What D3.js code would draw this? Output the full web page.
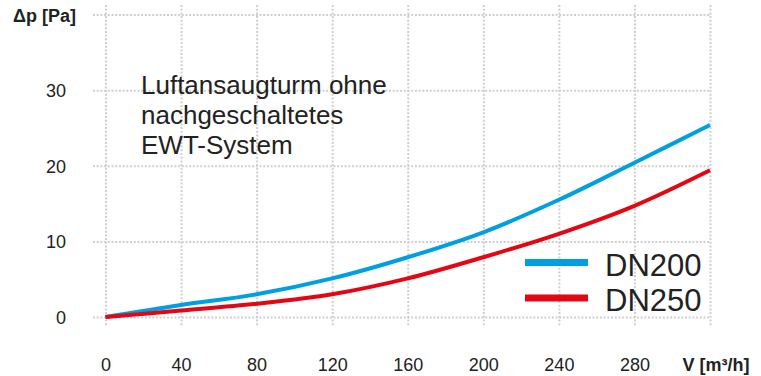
<!DOCTYPE html>
<html><head><meta charset="utf-8">
<script src="https://cdn.jsdelivr.net/npm/d3@7"></script>
<style>
html,body{margin:0;padding:0;background:#fff;}
svg{display:block;font-family:"Liberation Sans",Arial,Helvetica,sans-serif;}
</style></head>
<body>
<svg id="chart" width="761" height="376"></svg>
<script>
const flow = [0, 40, 80, 120, 160, 200, 240, 280, 320];
const dn200 = [0, 1.6, 3.0, 5.1, 7.9, 11.2, 15.5, 20.4, 25.4];
const dn250 = [0, 0.85, 1.75, 3.0, 5.1, 7.9, 11.0, 14.7, 19.4];
const seriesNames = ["DN200", "DN250"];
const seriesColors = ["#009fe3", "#e30613"];
const xTicks = [0, 40, 80, 120, 160, 200, 240, 280, 320];
const xTickLabels = ["0", "40", "80", "120", "160", "200", "240", "280", ""];
const yTicks = [0, 10, 20, 30, 40];
const yTickLabels = ["0", "10", "20", "30", ""];
const xTitle = "V [m³/h]";
const yTitle = "Δp [Pa]";
const noteLines = ["Luftansaugturm ohne", "nachgeschaltetes", "EWT-System"];

const svg = d3.select("#chart");
const x = d3.scaleLinear().domain([0, 320]).range([105.5, 710]);
const y = d3.scaleLinear().domain([0, 40]).range([317, 14.5]);
const txt = "#222";
const gridCol = "#cfcfcf";

// horizontal grid + y labels
const yAxis = d3.axisLeft(y).tickValues(yTicks)
  .tickFormat((d, i) => yTickLabels[i])
  .tickSize(-(710 - 93)).tickPadding(27);
const gy = svg.append("g").attr("transform", "translate(93,0)").call(yAxis);
gy.select(".domain").remove();
gy.selectAll(".tick line").attr("x1", 0).attr("x2", 710 - 93)
  .attr("stroke", gridCol).attr("stroke-width", 2).attr("stroke-dasharray", "2,1.7");
gy.selectAll(".tick text").attr("fill", txt).style("font-size", "18px")
  .attr("font-family", null).attr("x", 66 - 93).attr("dy", "0.36em");

// vertical grid + x labels
const xAxis = d3.axisBottom(x).tickValues(xTicks)
  .tickFormat((d, i) => xTickLabels[i]).tickSize(0);
const gx = svg.append("g").call(xAxis);
gx.select(".domain").remove();
gx.selectAll(".tick line").attr("y1", 5).attr("y2", 327)
  .attr("stroke", gridCol).attr("stroke-width", 2).attr("stroke-dasharray", "2,1.7");
gx.selectAll(".tick text").attr("fill", txt).style("font-size", "18px")
  .attr("font-family", null).attr("y", 371).attr("dy", 0);

// titles
svg.append("text").attr("x", 13).attr("y", 22).attr("fill", txt)
  .style("font-size", "18px").style("font-weight", "bold").text(yTitle);
svg.append("text").attr("x", 716).attr("y", 371).attr("text-anchor", "middle").attr("fill", txt)
  .style("font-size", "18px").style("font-weight", "bold").text(xTitle);

// annotation
svg.append("text").attr("fill", txt).style("font-size", "26px")
  .selectAll("tspan").data(noteLines).join("tspan")
  .attr("x", 141).attr("y", (d, i) => 93.5 + i * 30).text(d => d);

// curves
const line = d3.line().x(d => x(d[0])).y(d => y(d[1])).curve(d3.curveCatmullRom.alpha(0.5));
const series = [dn200, dn250];
series.forEach((vals, si) => {
  svg.append("path").datum(flow.map((f, i) => [f, vals[i]]))
    .attr("fill", "none").attr("stroke", seriesColors[si])
    .attr("stroke-width", 4).attr("stroke-linejoin", "round").attr("d", line);
});

// legend
const leg = svg.append("g");
const legY = [262.5, 298];
seriesNames.forEach((n, i) => {
  leg.append("line").attr("x1", 525).attr("x2", 588).attr("y1", legY[i]).attr("y2", legY[i])
    .attr("stroke", seriesColors[i]).attr("stroke-width", 7);
  leg.append("text").attr("x", 605).attr("y", legY[i] + 13).attr("fill", txt)
    .style("font-size", "31px").text(n);
});
</script>
</body></html>
